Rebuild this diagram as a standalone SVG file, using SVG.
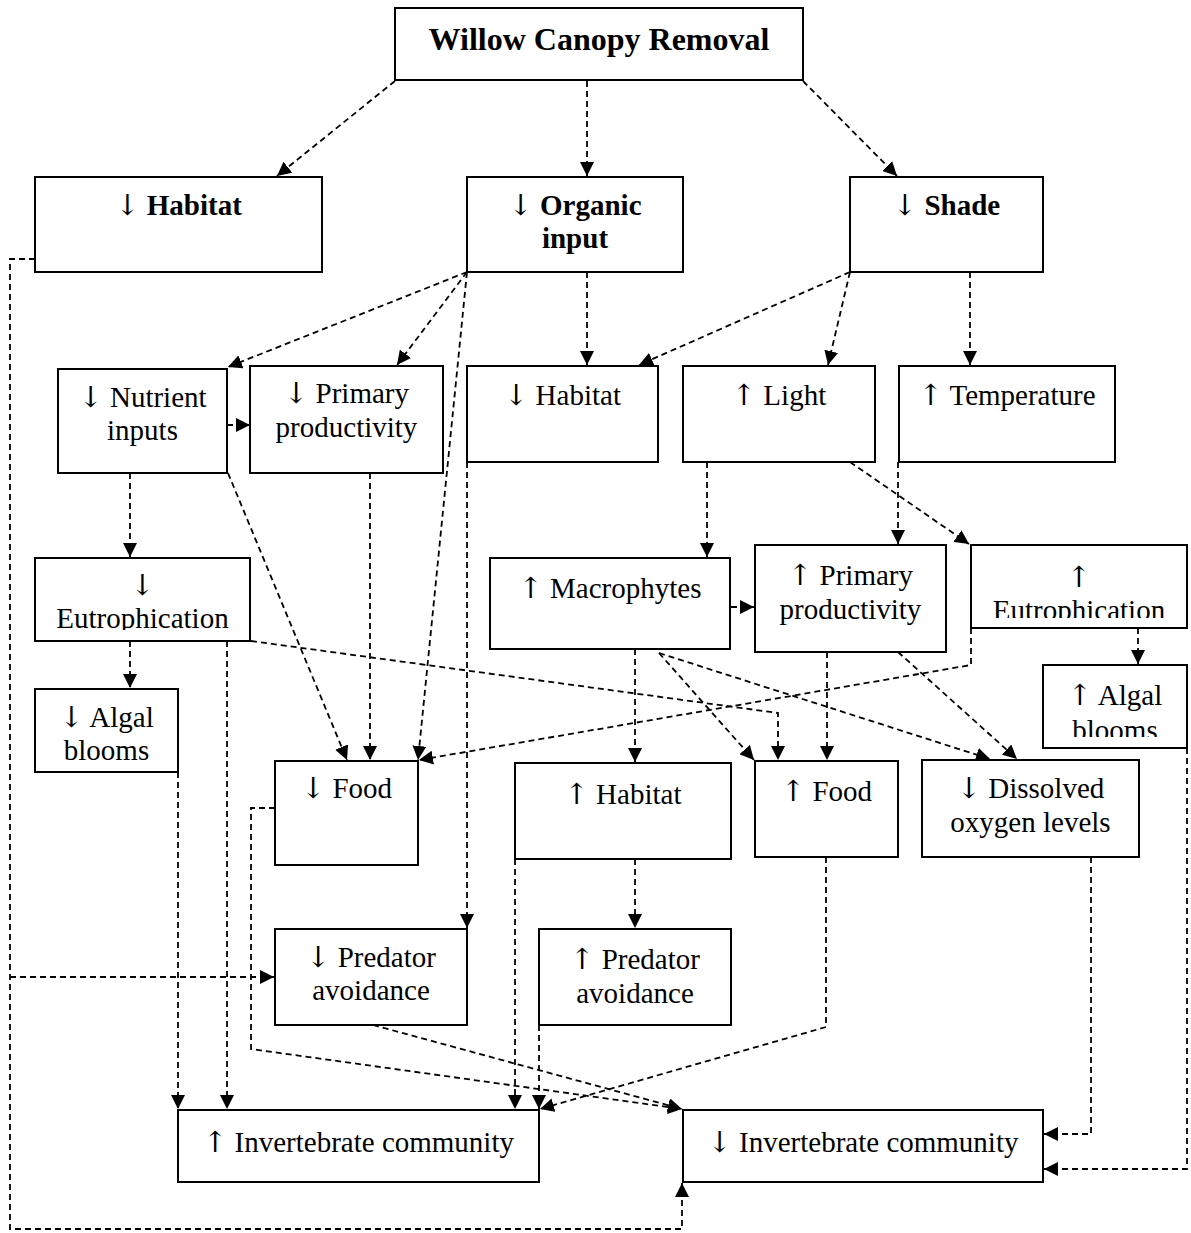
<svg xmlns="http://www.w3.org/2000/svg" width="1191" height="1233" viewBox="0 0 1191 1233">
  <style>
    .box { fill: #ffffff; stroke: #000000; stroke-width: 2; }
    .lbl { font-family: "Liberation Serif", "DejaVu Serif", serif; font-size: 29px; fill: #000000; text-anchor: middle; }
    .b { font-weight: bold; }
    .title { font-size: 32px; }
    .ar { font-family: "DejaVu Serif", "DejaVu Sans", serif; font-weight: normal; fill: #000000; }
    .edge { fill: none; stroke: #000000; stroke-width: 1.8; stroke-dasharray: 6 4; marker-end: url(#arrow); }
  </style>
  <defs>
    <marker id="arrow" viewBox="0 0 14 14" refX="14" refY="7" markerWidth="14" markerHeight="14" markerUnits="userSpaceOnUse" orient="auto">
      <path d="M0,0 L14,7 L0,14 z" fill="#000000"/>
    </marker>
    <clipPath id="clipEutroDown"><rect x="35" y="558" width="215" height="72"/></clipPath>
    <clipPath id="clipEutroUp"><rect x="971" y="545" width="216" height="73"/></clipPath>
    <clipPath id="clipAlgalUp"><rect x="1043" y="665" width="144" height="72"/></clipPath>
  </defs>

  <rect x="0" y="0" width="1191" height="1233" fill="#ffffff"/>

  <!-- dashed connectors -->
  <g id="connectors">
    <path class="edge" d="M395,81 L277,176"/>
    <path class="edge" d="M587,81 L587,176"/>
    <path class="edge" d="M803,81 L897,176"/>
    <path class="edge" d="M35,259 L10,259 L10,1229 L682,1229 L682,1183"/>
    <path class="edge" d="M10,977 L274,977"/>
    <path class="edge" d="M467,272 L228,367"/>
    <path class="edge" d="M467,272 L397,365"/>
    <path class="edge" d="M467,272 L418,760"/>
    <path class="edge" d="M587,272 L587,365"/>
    <path class="edge" d="M850,272 L639,365"/>
    <path class="edge" d="M850,272 L828,365"/>
    <path class="edge" d="M970,272 L970,365"/>
    <path class="edge" d="M227,425 L250,425"/>
    <path class="edge" d="M130,473 L130,557"/>
    <path class="edge" d="M228,473 L347,760"/>
    <path class="edge" d="M370,473 L370,760"/>
    <path class="edge" d="M467,462 L467,928"/>
    <path class="edge" d="M707,462 L707,557"/>
    <path class="edge" d="M850,462 L969,544"/>
    <path class="edge" d="M898,462 L898,544"/>
    <path class="edge" d="M130,641 L130,688"/>
    <path class="edge" d="M227,641 L227,1109"/>
    <path class="edge" d="M251,641 L778,713 L778,760"/>
    <path class="edge" d="M178,772 L178,1109"/>
    <path class="edge" d="M731,607 L754,607"/>
    <path class="edge" d="M635,649 L635,762"/>
    <path class="edge" d="M659,653 L754,760"/>
    <path class="edge" d="M659,653 L990,759"/>
    <path class="edge" d="M827,652 L827,760"/>
    <path class="edge" d="M898,652 L1017,759"/>
    <path class="edge" d="M971,628 L971,665 L419,760"/>
    <path class="edge" d="M1138,628 L1138,664"/>
    <path class="edge" d="M1187,748 L1187,1169 L1044,1169"/>
    <path class="edge" d="M275,808 L251,808 L251,1049 L682,1109"/>
    <path class="edge" d="M373,1025 L682,1109"/>
    <path class="edge" d="M515,859 L515,1109"/>
    <path class="edge" d="M635,859 L635,928"/>
    <path class="edge" d="M539,1025 L539,1109"/>
    <path class="edge" d="M826,857 L826,1027 L540,1109"/>
    <path class="edge" d="M1091,857 L1091,1134 L1044,1134"/>
  </g>

  <!-- nodes -->
  <g id="willow-canopy-removal">
    <rect class="box" x="395" y="8" width="408" height="72"/>
    <text class="lbl b title" x="599" y="50">Willow Canopy Removal</text>
  </g>
  <g id="habitat-down-top">
    <rect class="box" x="35" y="177" width="287" height="95"/>
    <text class="lbl b" x="178.5" y="215"><tspan class="ar">↓</tspan> Habitat</text>
  </g>
  <g id="organic-input-down">
    <rect class="box" x="467" y="177" width="216" height="95"/>
    <text class="lbl b" x="575" y="215"><tspan class="ar">↓</tspan> Organic</text>
    <text class="lbl b" x="575" y="248">input</text>
  </g>
  <g id="shade-down">
    <rect class="box" x="850" y="177" width="193" height="95"/>
    <text class="lbl b" x="946.5" y="215"><tspan class="ar">↓</tspan> Shade</text>
  </g>
  <g id="nutrient-inputs-down">
    <rect class="box" x="58" y="369" width="169" height="104"/>
    <text class="lbl" x="142.5" y="407"><tspan class="ar">↓</tspan> Nutrient</text>
    <text class="lbl" x="142.5" y="440">inputs</text>
  </g>
  <g id="primary-productivity-down">
    <rect class="box" x="250" y="366" width="193" height="107"/>
    <text class="lbl" x="346.5" y="403"><tspan class="ar">↓</tspan> Primary</text>
    <text class="lbl" x="346.5" y="437">productivity</text>
  </g>
  <g id="habitat-down-mid">
    <rect class="box" x="467" y="366" width="191" height="96"/>
    <text class="lbl" x="562.5" y="405"><tspan class="ar">↓</tspan> Habitat</text>
  </g>
  <g id="light-up">
    <rect class="box" x="683" y="366" width="192" height="96"/>
    <text class="lbl" x="779" y="405"><tspan class="ar">↑</tspan> Light</text>
  </g>
  <g id="temperature-up">
    <rect class="box" x="899" y="366" width="216" height="96"/>
    <text class="lbl" x="1007" y="405"><tspan class="ar">↑</tspan> Temperature</text>
  </g>
  <g id="eutrophication-down">
    <rect class="box" x="35" y="558" width="215" height="83"/>
    <g clip-path="url(#clipEutroDown)">
      <text class="lbl" x="142.5" y="595"><tspan class="ar">↓</tspan></text>
      <text class="lbl" x="142.5" y="628">Eutrophication</text>
    </g>
  </g>
  <g id="algal-blooms-down">
    <rect class="box" x="35" y="689" width="143" height="83"/>
    <text class="lbl" x="106.5" y="727"><tspan class="ar">↓</tspan> Algal</text>
    <text class="lbl" x="106.5" y="760">blooms</text>
  </g>
  <g id="macrophytes-up">
    <rect class="box" x="490" y="558" width="240" height="91"/>
    <text class="lbl" x="610" y="598"><tspan class="ar">↑</tspan> Macrophytes</text>
  </g>
  <g id="primary-productivity-up">
    <rect class="box" x="755" y="545" width="191" height="107"/>
    <text class="lbl" x="850.5" y="585"><tspan class="ar">↑</tspan> Primary</text>
    <text class="lbl" x="850.5" y="619">productivity</text>
  </g>
  <g id="eutrophication-up">
    <rect class="box" x="971" y="545" width="216" height="83"/>
    <g clip-path="url(#clipEutroUp)">
      <text class="lbl" x="1079" y="587"><tspan class="ar">↑</tspan></text>
      <text class="lbl" x="1079" y="620">Eutrophication</text>
    </g>
  </g>
  <g id="algal-blooms-up">
    <rect class="box" x="1043" y="665" width="144" height="83"/>
    <g clip-path="url(#clipAlgalUp)">
      <text class="lbl" x="1115" y="705"><tspan class="ar">↑</tspan> Algal</text>
      <text class="lbl" x="1115" y="740">blooms</text>
    </g>
  </g>
  <g id="food-down">
    <rect class="box" x="275" y="761" width="143" height="104"/>
    <text class="lbl" x="346.5" y="798"><tspan class="ar">↓</tspan> Food</text>
  </g>
  <g id="habitat-up">
    <rect class="box" x="515" y="763" width="216" height="96"/>
    <text class="lbl" x="623" y="804"><tspan class="ar">↑</tspan> Habitat</text>
  </g>
  <g id="food-up">
    <rect class="box" x="755" y="761" width="143" height="96"/>
    <text class="lbl" x="826.5" y="801"><tspan class="ar">↑</tspan> Food</text>
  </g>
  <g id="dissolved-oxygen-down">
    <rect class="box" x="922" y="760" width="217" height="97"/>
    <text class="lbl" x="1030.5" y="798"><tspan class="ar">↓</tspan> Dissolved</text>
    <text class="lbl" x="1030.5" y="832">oxygen levels</text>
  </g>
  <g id="predator-avoidance-down">
    <rect class="box" x="275" y="929" width="192" height="96"/>
    <text class="lbl" x="371" y="967"><tspan class="ar">↓</tspan> Predator</text>
    <text class="lbl" x="371" y="1000">avoidance</text>
  </g>
  <g id="predator-avoidance-up">
    <rect class="box" x="539" y="929" width="192" height="96"/>
    <text class="lbl" x="635" y="969"><tspan class="ar">↑</tspan> Predator</text>
    <text class="lbl" x="635" y="1003">avoidance</text>
  </g>
  <g id="invertebrate-community-up">
    <rect class="box" x="178" y="1110" width="361" height="72"/>
    <text class="lbl" x="358.5" y="1152"><tspan class="ar">↑</tspan> Invertebrate community</text>
  </g>
  <g id="invertebrate-community-down">
    <rect class="box" x="683" y="1110" width="360" height="72"/>
    <text class="lbl" x="863" y="1152"><tspan class="ar">↓</tspan> Invertebrate community</text>
  </g>
</svg>
